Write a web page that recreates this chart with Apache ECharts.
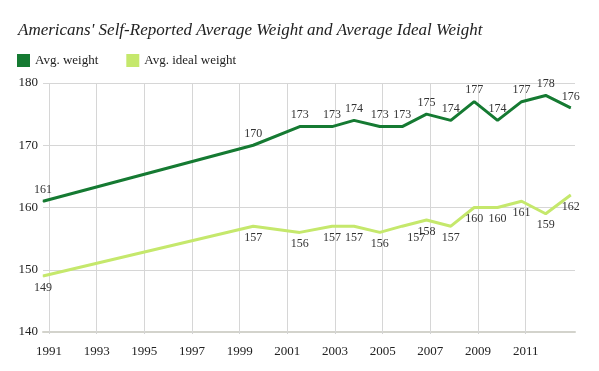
<!DOCTYPE html>
<html>
<head>
<meta charset="utf-8">
<script src="https://cdn.jsdelivr.net/npm/echarts@6/dist/echarts.min.js"></script>
<style>
html,body{margin:0;padding:0;background:#fff;}
#chart{width:599px;height:371px;}
</style>
</head>
<body>
<div id="chart"></div>
<script>
const years = [1990.75, 1999.57, 2001.52, 2002.88, 2003.8, 2004.88, 2005.82, 2006.84, 2007.86, 2008.84, 2009.82, 2010.83, 2011.84, 2012.89];
const avgWeight = [161, 170, 173, 173, 174, 173, 173, 175, 174, 177, 174, 177, 178, 176];
const idealWeight = [149, 157, 156, 157, 157, 156, 157, 158, 157, 160, 160, 161, 159, 162];
const tickYears = [1991, 1993, 1995, 1997, 1999, 2001, 2003, 2005, 2007, 2009, 2011];
const titleText = "Americans' Self-Reported Average Weight and Average Ideal Weight";
const seriesNames = ['Avg. weight', 'Avg. ideal weight'];

const FONT = 'Liberation Serif';
const darkGreen = '#157a32';
const lightGreen = '#c5e86c';

const weightData = years.map((y, i) => [y, avgWeight[i]]);
const idealData = years.map((y, i) => {
  const d = { value: [y, idealWeight[i]] };
  if (i === 6) d.label = { offset: [14, 0] };
  return d;
});

const chart = echarts.init(document.getElementById('chart'), null, { renderer: 'canvas' });
chart.setOption({
  animation: false,
  backgroundColor: '#fff',
  title: {
    text: titleText,
    left: 13, top: 17,
    textStyle: { fontFamily: FONT, fontStyle: 'italic', fontWeight: 'normal', fontSize: 17, color: '#222' }
  },
  legend: {
    left: 12, top: 49,
    icon: 'rect', itemWidth: 13, itemHeight: 13, itemGap: 28,
    textStyle: { fontFamily: FONT, fontSize: 13, color: '#222' },
    data: seriesNames
  },
  grid: { left: 43, right: 24, top: 83, bottom: 39, containLabel: false },
  xAxis: {
    type: 'value',
    min: years[0], max: 2013.07,
    axisLine: { show: true, lineStyle: { color: '#d3d3cc', width: 2 } },
    axisTick: { show: true, customValues: tickYears, length: 2, lineStyle: { color: '#d3d3d3' } },
    axisLabel: { customValues: tickYears, fontFamily: FONT, fontSize: 13, color: '#222', margin: 13, formatter: v => String(v) },
    splitLine: { show: false }
  },
  yAxis: {
    type: 'value', min: 140, max: 180, interval: 10,
    axisLine: { show: false }, axisTick: { show: false },
    axisLabel: { fontFamily: FONT, fontSize: 13, color: '#222', margin: 5 },
    splitLine: { show: true, lineStyle: { color: '#d6d6d6', width: 1 } }
  },
  series: [
    {
      name: seriesNames[0], type: 'line', data: weightData,
      symbol: 'circle', symbolSize: 1, showSymbol: true,
      lineStyle: { color: darkGreen, width: 3 }, itemStyle: { color: darkGreen },
      label: { show: true, position: 'top', distance: 5, fontFamily: FONT, fontSize: 12, color: '#333' },
      emphasis: { disabled: true }, z: 3,
      markLine: {
        silent: true, symbol: 'none', label: { show: false },
        lineStyle: { color: '#d6d6d6', width: 1, type: 'solid' },
        data: tickYears.map(t => ({ xAxis: t })),
        z: 1
      }
    },
    {
      name: seriesNames[1], type: 'line', data: idealData,
      symbol: 'circle', symbolSize: 1, showSymbol: true,
      lineStyle: { color: lightGreen, width: 3 }, itemStyle: { color: lightGreen },
      label: { show: true, position: 'bottom', distance: 5, fontFamily: FONT, fontSize: 12, color: '#333' },
      emphasis: { disabled: true }, z: 2
    }
  ]
});
</script>
</body>
</html>
